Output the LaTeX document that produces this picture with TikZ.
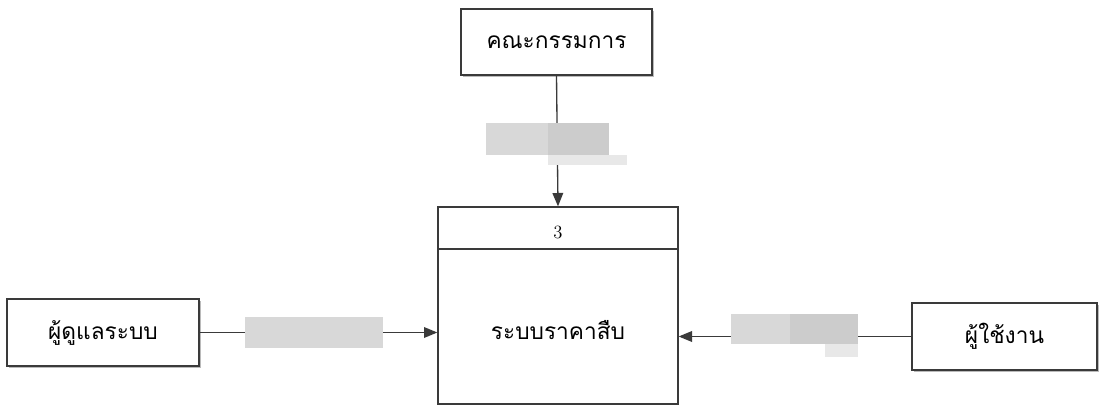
\documentclass[tikz,border=0pt]{standalone}
\usepackage{fontspec}
\newfontfamily\thaifont[Script=Thai]{Loma}
\usetikzlibrary{arrows.meta,shadows,positioning}
\definecolor{linec}{HTML}{3A3A3A}
\definecolor{maskc}{HTML}{D8D8D8}
\definecolor{maskd}{HTML}{CCCCCC}
\tikzset{
  entity/.style={draw=linec, line width=1.1pt, fill=white, font=\thaifont\fontsize{17}{20}\selectfont,
    drop shadow={shadow xshift=1.5pt, shadow yshift=-1.5pt, fill=black!45, opacity=0.6},
    inner sep=0pt},
  procbox/.style={draw=linec, line width=1pt, fill=white, inner sep=0pt},
  flow/.style={draw=linec, line width=1pt, -{Triangle[length=10pt,width=8pt]}},
  mask/.style={fill=maskc, draw=none, inner sep=0pt}
}
\begin{document}
\begin{tikzpicture}[x=0.75pt,y=-0.75pt]
\useasboundingbox (0,0) rectangle (1108,406);
% entities
\node[entity, minimum width=143.25pt, minimum height=49.5pt] (committee) at (556.5,42) {คณะกรรมการ};
\node[entity, minimum width=144pt, minimum height=50.25pt] (admin) at (103,332.5) {ผู้ดูแลระบบ};
\node[entity, minimum width=138.75pt, minimum height=50.25pt] (user) at (1004.5,336.5) {ผู้ใช้งาน};
% process
\node[procbox, minimum width=180pt, minimum height=147.75pt] (proc) at (558,305.5) {};
\coordinate (divL) at ([yshift=-32.25pt]proc.north west);
\coordinate (divR) at ([yshift=-32.25pt]proc.north east);
\draw[linec, line width=1.5pt] (divL) -- (divR);
\node[font=\fontsize{14}{16}\selectfont] (pid) at (558,232) {3};
\node[font=\thaifont\fontsize{17}{20}\selectfont] (pname) at (558,330) {ระบบราคาสืบ};
% flows
\draw[flow] (committee.south) -- (proc.north);
\draw[flow] (admin.east) -- (admin.east -| proc.west);
\draw[flow] (user.west) -- (user.west -| proc.east);
% masked labels
\node[mask, minimum width=92.25pt, minimum height=24pt] (m1) at (547.5,139) {};
\fill[maskd] (548,123) rectangle (609,155);
\fill[maskc!60] (548,155) rectangle (627,165);
\node[mask, minimum width=103.5pt, minimum height=23.25pt] (m2) at (314,332.5) {};
\node[mask, minimum width=95.25pt, minimum height=22.5pt] (m3) at (794.5,329) {};
\fill[maskd] (790,314) rectangle (858,344);
\fill[maskc!60] (825,344) rectangle (858,357);
\end{tikzpicture}
\end{document}
